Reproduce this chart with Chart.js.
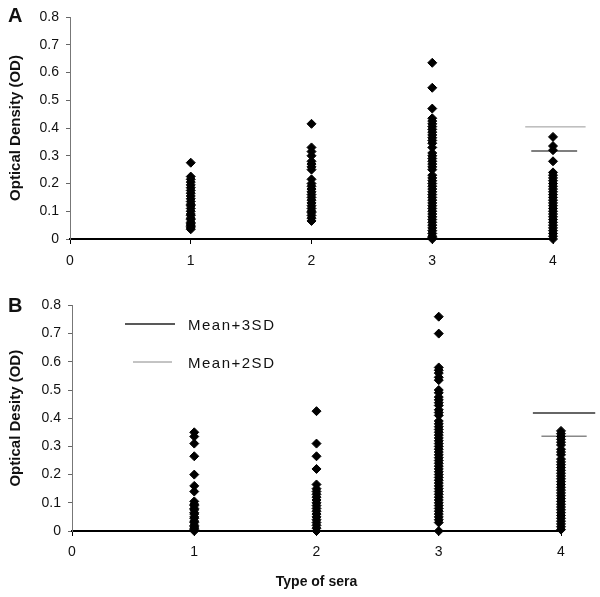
<!DOCTYPE html>
<html>
<head>
<meta charset="utf-8">
<script src="https://cdn.jsdelivr.net/npm/chart.js@4"></script>
<style>
  body { margin: 0; background: #fff; width: 600px; height: 597px; position: relative; overflow: hidden; font-family: "Liberation Sans", Arial, sans-serif; }
  .panel { position: absolute; left: 0; width: 600px; }
  #wrapA { top: 0; height: 285px; }
  #wrapB { top: 290px; height: 307px; }
  .tag { position: absolute; left: 8px; font-weight: bold; font-size: 20px; color: #111; }
</style>
</head>
<body>
<div class="panel" id="wrapA"><canvas id="chartA" width="600" height="285"></canvas></div>
<div class="panel" id="wrapB"><canvas id="chartB" width="600" height="307"></canvas></div>
<div class="tag" style="top:4px">A</div>
<div class="tag" style="top:294px">B</div>
<script>
// sera types on the x axis
const seraTypes = [1, 2, 3, 4];
const xTicks = [0, 1, 2, 3, 4];
const yTicks = [0, 0.1, 0.2, 0.3, 0.4, 0.5, 0.6, 0.7, 0.8];

// panel A, OD readings per type of sera
const odA1 = [0.275, 0.225, 0.215, 0.205, 0.195, 0.185, 0.175, 0.165, 0.155, 0.145, 0.135, 0.125, 0.12, 0.11, 0.1, 0.09, 0.085, 0.075, 0.07, 0.06, 0.055, 0.05, 0.045, 0.04, 0.035];
const odA2 = [0.415, 0.33, 0.315, 0.3, 0.28, 0.27, 0.26, 0.25, 0.215, 0.2, 0.19, 0.18, 0.17, 0.16, 0.15, 0.14, 0.13, 0.12, 0.11, 0.1, 0.095, 0.085, 0.075, 0.065];
const odA3 = [0.635, 0.545, 0.47, 0.435, 0.425, 0.415, 0.405, 0.395, 0.385, 0.375, 0.365, 0.355, 0.345, 0.33, 0.31, 0.3, 0.29, 0.28, 0.27, 0.26, 0.25, 0.23, 0.22, 0.21, 0.2, 0.19, 0.18, 0.17, 0.16, 0.15, 0.14, 0.13, 0.12, 0.11, 0.1, 0.09, 0.08, 0.07, 0.06, 0.05, 0.04, 0.03, 0.02, 0.01, 0.005, 0];
const odA4 = [0.368, 0.335, 0.32, 0.28, 0.24, 0.23, 0.22, 0.21, 0.2, 0.19, 0.18, 0.17, 0.16, 0.15, 0.14, 0.13, 0.12, 0.11, 0.1, 0.09, 0.08, 0.07, 0.06, 0.05, 0.04, 0.03, 0.02, 0.01, 0];

// panel B
const odB1 = [0.35, 0.335, 0.31, 0.265, 0.2, 0.16, 0.14, 0.105, 0.095, 0.09, 0.08, 0.075, 0.065, 0.06, 0.05, 0.045, 0.035, 0.03, 0.02, 0.015, 0.01, 0.005, 0];
const odB2 = [0.425, 0.31, 0.265, 0.22, 0.165, 0.15, 0.14, 0.13, 0.12, 0.11, 0.1, 0.09, 0.08, 0.07, 0.06, 0.05, 0.04, 0.03, 0.02, 0.01, 0];
const odB3 = [0.76, 0.7, 0.58, 0.57, 0.56, 0.545, 0.535, 0.5, 0.49, 0.475, 0.465, 0.455, 0.445, 0.43, 0.42, 0.41, 0.39, 0.38, 0.37, 0.36, 0.35, 0.34, 0.33, 0.32, 0.31, 0.3, 0.29, 0.28, 0.27, 0.26, 0.25, 0.24, 0.23, 0.22, 0.21, 0.2, 0.19, 0.18, 0.17, 0.16, 0.15, 0.14, 0.13, 0.12, 0.11, 0.1, 0.09, 0.08, 0.07, 0.06, 0.05, 0.04, 0.03, 0];
const odB4 = [0.355, 0.345, 0.335, 0.325, 0.315, 0.305, 0.29, 0.28, 0.27, 0.255, 0.245, 0.235, 0.225, 0.215, 0.205, 0.195, 0.185, 0.175, 0.165, 0.155, 0.145, 0.135, 0.125, 0.115, 0.105, 0.095, 0.085, 0.075, 0.065, 0.055, 0.045, 0.035, 0.025, 0.015, 0.005];

// cut-off lines (value, x start, x end)
const cutA3SD = [0.404, 3.77, 4.27];
const cutA2SD = [0.317, 3.82, 4.2];
const cutB3SD = [0.418, 3.77, 4.28];
const cutB2SD = [0.336, 3.84, 4.21];

const legendLabels = ["Mean+3SD", "Mean+2SD"];

const FONT = '"Liberation Sans", Arial, sans-serif';

function scatterSet(cols) {
  let pts = [];
  cols.forEach((vals, i) => {
    vals.forEach((v) => pts.push({ x: seraTypes[i], y: v }));
  });
  return {
    type: "scatter",
    data: pts,
    pointStyle: "rectRot",
    pointRadius: 4.5,
    backgroundColor: "#000",
    borderColor: "#000",
    borderWidth: 1,
    clip: false,
  };
}

function cutLine(cut, color, width) {
  return {
    type: "line",
    data: [{ x: cut[1], y: cut[0] }, { x: cut[2], y: cut[0] }],
    borderColor: color,
    borderWidth: width,
    pointRadius: 0,
    clip: false,
  };
}

// legend drawn inside panel B
const sdLegend = {
  id: "sdLegend",
  afterDraw(chart) {
    if (!chart.options.plugins.sdLegend.show) return;
    const ctx = chart.ctx;
    ctx.save();
    ctx.lineWidth = 1.5;
    ctx.strokeStyle = "#222";
    ctx.beginPath(); ctx.moveTo(125, 34); ctx.lineTo(175, 34); ctx.stroke();
    ctx.lineWidth = 1;
    ctx.strokeStyle = "#888";
    ctx.beginPath(); ctx.moveTo(133, 72); ctx.lineTo(172, 72); ctx.stroke();
    ctx.fillStyle = "#111";
    ctx.font = "15px " + FONT;
    ctx.letterSpacing = "1.5px";
    ctx.textBaseline = "middle";
    ctx.fillText(legendLabels[0], 188, 36);
    ctx.fillText(legendLabels[1], 188, 74);
    ctx.restore();
  }
};

function makeChart(id, datasets, opt) {
  const ctx = document.getElementById(id).getContext("2d");
  return new Chart(ctx, {
    data: { datasets: datasets },
    plugins: [sdLegend],
    options: {
      responsive: false,
      animation: false,
      events: [],
      layout: { padding: { top: opt.top, right: opt.right, left: 0, bottom: 0 } },
      plugins: {
        legend: { display: false },
        tooltip: { enabled: false },
        sdLegend: { show: opt.legend },
      },
      scales: {
        x: {
          type: "linear",
          min: 0,
          max: 4,
          afterBuildTicks: (s) => { s.ticks = xTicks.map((v) => ({ value: v })); },
          afterFit: (s) => { s.height = opt.xHeight; },
          ticks: { color: "#111", font: { family: FONT, size: 14 }, padding: opt.xPad },
          grid: { drawOnChartArea: false, tickLength: 5, color: "#000" },
          border: { color: "#000", width: 2 },
          title: {
            display: opt.xTitle != null,
            text: opt.xTitle || "",
            color: "#111",
            font: { family: FONT, size: 14, weight: "bold" },
            padding: { top: 0, bottom: 6 },
          },
        },
        y: {
          min: 0,
          max: 0.8,
          afterBuildTicks: (s) => { s.ticks = yTicks.map((v) => ({ value: v })); },
          afterFit: (s) => { s.width = opt.yWidth; },
          ticks: {
            color: "#111",
            font: { family: FONT, size: 14 },
            padding: 7,
            callback: (v) => String(+v.toFixed(1)),
          },
          grid: { drawOnChartArea: false, tickLength: 4, color: "#666" },
          border: { color: "#777", width: 1 },
          title: {
            display: true,
            text: opt.yTitle,
            color: "#111",
            font: { family: FONT, size: 15, weight: "bold" },
            padding: { top: 7, bottom: 0 },
          },
        },
      },
    },
  });
}

makeChart("chartA", [
  scatterSet([odA1, odA2, odA3, odA4]),
  cutLine(cutA3SD, "#999", 1),
  cutLine(cutA2SD, "#555", 1.5),
], { top: 17, right: 47, xHeight: 46, yWidth: 70, xPad: 9, yTitle: "Optical Density (OD)", xTitle: null, legend: false });

makeChart("chartB", [
  scatterSet([odB1, odB2, odB3, odB4]),
  cutLine(cutB3SD, "#333", 1.5),
  cutLine(cutB2SD, "#888", 1.5),
], { top: 15, right: 39, xHeight: 66, yWidth: 72, xPad: 8, yTitle: "Optical Desity (OD)", xTitle: "Type of sera", legend: true });
</script>
</body>
</html>
